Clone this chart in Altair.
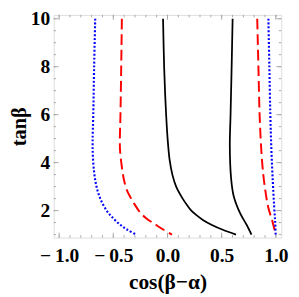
import altair as alt
import pandas as pd

# ---- data ----
blue_left_y = [10, 8, 6, 4.9, 4.3, 3.56, 3.0, 2.5, 2.0, 1.7, 1.41, 1.2, 1.0]
blue_left_x = [-0.667, -0.677, -0.685, -0.691, -0.689, -0.676, -0.655, -0.620, -0.562, -0.505, -0.437, -0.370, -0.288]

red_left_y = [10, 8, 6, 4.8, 4.4, 3.56, 3.17, 2.8, 2.62, 2.36, 1.95, 1.68, 1.41, 1.21, 1.0]
red_left_x = [-0.421, -0.427, -0.434, -0.440, -0.436, -0.413, -0.396, -0.370, -0.350, -0.317, -0.257, -0.197, -0.108, -0.040, 0.042]

black_left_y = [10, 8, 6.5, 5.0, 4.1, 3.5, 3.0, 2.5, 2.2, 2.0, 1.8, 1.6, 1.4, 1.2, 1.0]
black_left_x = [-0.041, -0.031, -0.018, 0.001, 0.020, 0.045, 0.080, 0.140, 0.185, 0.220, 0.270, 0.330, 0.410, 0.510, 0.632]

black_right_y = [10, 8, 6, 4.7, 3.4, 2.62, 1.88, 1.41, 1.0]
black_right_x = [0.601, 0.592, 0.582, 0.575, 0.586, 0.610, 0.671, 0.730, 0.775]

red_right_y = [10, 8, 6, 4.5, 3.5, 2.8, 2.15, 1.54, 1.0]
red_right_x = [0.828, 0.839, 0.850, 0.866, 0.884, 0.904, 0.929, 0.969, 0.999]

blue_right_y = [10, 8, 6, 4.5, 3.2, 2.2, 1.5, 1.0]
blue_right_x = [0.931, 0.940, 0.949, 0.959, 0.972, 0.984, 0.994, 0.998]

x_major = [-1.0, -0.5, 0.0, 0.5, 1.0]
x_minor = [-1.0, -0.9, -0.8, -0.7, -0.6, -0.5, -0.4, -0.3, -0.2, -0.1, 0.0,
           0.1, 0.2, 0.3, 0.4, 0.5, 0.6, 0.7, 0.8, 0.9, 1.0]
y_major = [2, 4, 6, 8, 10]
y_minor = [1, 1.5, 2, 2.5, 3, 3.5, 4, 4.5, 5, 5.5, 6, 6.5, 7, 7.5, 8, 8.5, 9, 9.5, 10]

W, H = 234, 229
FONT = "Liberation Serif"
FRAME = "#a8a8a8"

xscale = alt.Scale(domain=[-1.05, 1.05], nice=False, zero=False)
yscale = alt.Scale(domain=[0.874, 10.16], nice=False, zero=False)

xaxis = alt.Axis(values=x_major,
                 labelExpr="datum.value < 0 ? '\u2212\u2009' + format(-datum.value, '.1f') : format(datum.value, '.1f')",
                 title="cos(β\u2212α)", domain=False, ticks=False,
                 grid=False, labelFont=FONT, labelFontWeight="bold", labelFontSize=20,
                 labelColor="black", labelPadding=9, titleFont=FONT, titleFontWeight="bold",
                 titleFontSize=22, titleColor="black", titlePadding=6)
yaxis = alt.Axis(values=y_major, format="d", title="tanβ", domain=False, ticks=False,
                 grid=False, labelFont=FONT, labelFontWeight="bold", labelFontSize=20,
                 labelColor="black", labelPadding=4, titleFont=FONT, titleFontWeight="bold",
                 titleFontSize=21, titleColor="black", titlePadding=1)


def X():
    return alt.X("x:Q", scale=xscale, axis=xaxis)


def Y():
    return alt.Y("y:Q", scale=yscale, axis=yaxis)


curves = [
    (blue_left_x, blue_left_y, "#0000ff", [2, 2], 2.2),
    (red_left_x, red_left_y, "#ff0000", [11, 5], 2.0),
    (black_left_x, black_left_y, "#000000", None, 1.8),
    (black_right_x, black_right_y, "#000000", None, 1.8),
    (red_right_x, red_right_y, "#ff0000", [11, 5], 2.0),
    (blue_right_x, blue_right_y, "#0000ff", [2, 2], 2.2),
]

layers = []
for xs, ys, col, dash, sw in curves:
    df = pd.DataFrame({"x": xs, "y": ys, "o": list(range(len(xs)))})
    kw = dict(color=col, strokeWidth=sw, interpolate="catmull-rom", clip=True)
    if dash:
        kw["strokeDash"] = dash
        kw["strokeCap"] = "butt"
    layers.append(alt.Chart(df).mark_line(**kw).encode(x=X(), y=Y(), order="o:Q"))


# inward frame ticks
def xticks(vals, length):
    df = pd.DataFrame({"x": vals})
    b = alt.Chart(df).mark_rule(color=FRAME, strokeWidth=1).encode(
        x=X(), y=alt.value(H), y2=alt.value(H - length))
    t = alt.Chart(df).mark_rule(color=FRAME, strokeWidth=1).encode(
        x=X(), y=alt.value(0), y2=alt.value(length))
    return [b, t]


def yticks(vals, length):
    df = pd.DataFrame({"y": vals})
    l = alt.Chart(df).mark_rule(color=FRAME, strokeWidth=1).encode(
        y=Y(), x=alt.value(0), x2=alt.value(length))
    r = alt.Chart(df).mark_rule(color=FRAME, strokeWidth=1).encode(
        y=Y(), x=alt.value(W), x2=alt.value(W - length))
    return [l, r]


tick_layers = xticks(x_minor, 2.5) + xticks(x_major, 5) + yticks(y_minor, 2.5) + yticks(y_major, 5)

chart = alt.layer(*tick_layers, *layers).properties(
    width=W, height=H,
    autosize=alt.AutoSizeParams(type="none"),
    padding={"left": 47, "top": 3, "right": 10, "bottom": 57},
).configure_view(stroke=FRAME, strokeWidth=1).configure(background="white")

chart.save("out.html", embed_options={"renderer": "svg", "actions": False})
